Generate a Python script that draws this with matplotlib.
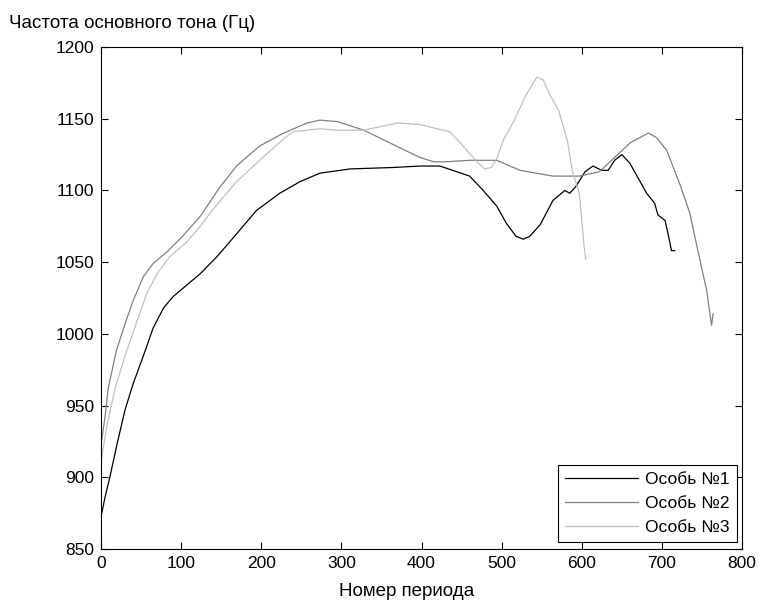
import numpy as np
import matplotlib
matplotlib.use('Agg')
import matplotlib.pyplot as plt

plt.rcParams['font.family'] = ['Liberation Sans', 'DejaVu Sans']

# Особь №1 (black)
x1 = [1, 5, 11, 20, 30, 40, 55, 65, 78, 90, 107, 124, 145, 165, 194, 223, 248, 273,
      311, 365, 398, 423, 460, 477, 494, 506, 518, 527, 535, 548, 564, 579, 585,
      593, 604, 614, 625, 633, 641, 650, 660, 681, 691, 695, 704, 708, 712, 716]
y1 = [875, 886, 900, 923, 947, 965, 988, 1004, 1018, 1026, 1034, 1042, 1054, 1067,
      1086, 1098, 1106, 1112, 1115, 1116, 1117, 1117, 1110, 1100, 1089, 1077,
      1068, 1066, 1068, 1076, 1093, 1100, 1098, 1103, 1113, 1117, 1114, 1114,
      1121, 1125, 1119, 1098, 1091, 1083, 1079, 1069, 1058, 1058]

# Особь №2 (dark gray)
x2 = [1, 5, 9, 19, 30, 40, 53, 65, 82, 100, 124, 148, 169, 198, 228, 257, 273, 295,
      328, 361, 398, 415, 431, 460, 494, 523, 564, 597, 622, 643, 660, 683, 693,
      706, 722, 735, 743, 756, 760, 762, 764]
y2 = [926, 942, 962, 988, 1007, 1023, 1040, 1049, 1057, 1067, 1082, 1102, 1117,
      1131, 1140, 1147, 1149, 1148, 1142, 1133, 1123, 1120, 1120, 1121, 1121,
      1114, 1110, 1110, 1113, 1124, 1133, 1140, 1137, 1128, 1105, 1084, 1063,
      1030, 1014, 1006, 1014]

# Особь №3 (light gray)
x3 = [1, 7, 18, 32, 45, 57, 70, 86, 107, 124, 140, 169, 198, 228, 240, 257, 273,
      295, 328, 370, 398, 419, 435, 452, 469, 479, 487, 494, 502, 514, 531, 544,
      552, 560, 571, 582, 588, 597, 603, 605]
y3 = [914, 935, 963, 988, 1009, 1028, 1042, 1054, 1064, 1075, 1087, 1106, 1121,
      1136, 1141, 1142, 1143, 1142, 1142, 1147, 1146, 1143, 1141, 1131, 1120,
      1115, 1116, 1122, 1135, 1147, 1167, 1179, 1177, 1167, 1156, 1135, 1114,
      1098, 1061, 1052]

labels = ['Особь №1', 'Особь №2', 'Особь №3']
colors = ['#000000', '#808080', '#c0c0c0']

fig = plt.figure(figsize=(7.59, 6.03), dpi=100)
ax = fig.add_axes([101/759, 54/603, 641/759, 502/603])

ax.plot(x1, y1, color=colors[0], linewidth=0.9, label=labels[0])
ax.plot(x2, y2, color=colors[1], linewidth=0.9, label=labels[1])
ax.plot(x3, y3, color=colors[2], linewidth=0.9, label=labels[2])

ax.set_xlim(0, 800)
ax.set_ylim(850, 1200)
ax.set_xticks(np.arange(0, 801, 100))
ax.set_yticks(np.arange(850, 1201, 50))
ax.tick_params(direction='in', length=5, width=0.8, top=True, right=True,
               labelsize=12.5, pad=5)
for s in ax.spines.values():
    s.set_linewidth(0.8)

ax.set_xlabel('Номер периода', fontsize=13.5, va='center')
ax.xaxis.set_label_coords((407-101)/641, -43/502)
fig.text(9/759, 1-23/603, 'Частота основного тона (Гц)', fontsize=13.5,
         ha='left', va='center')

leg = ax.legend(loc='lower right', bbox_to_anchor=(0.992, 0.014),
                borderaxespad=0, fancybox=False, framealpha=1,
                edgecolor='black', fontsize=12.5, handlelength=4.2,
                handletextpad=0.4, labelspacing=0.5)
leg.get_frame().set_linewidth(0.8)

fig.savefig('out.png', dpi=100)
